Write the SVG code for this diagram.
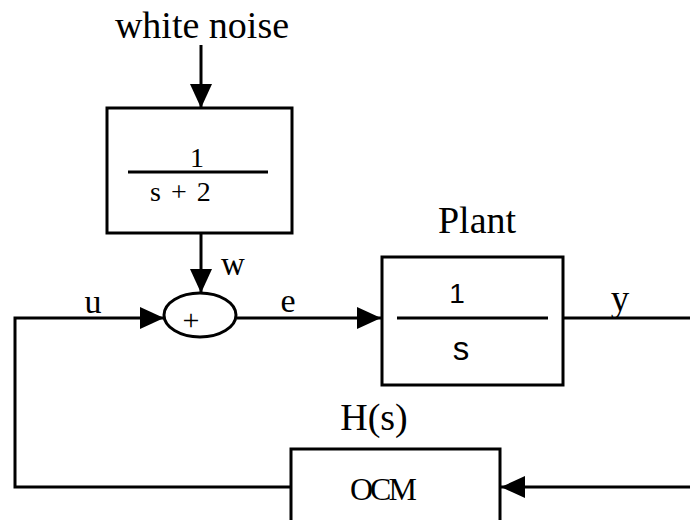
<svg xmlns="http://www.w3.org/2000/svg" width="690" height="520" viewBox="0 0 690 520">
<defs>
<marker id="ah" viewBox="0 0 24 22" refX="24" refY="11" markerWidth="24" markerHeight="22" markerUnits="userSpaceOnUse" orient="auto">
<path d="M0,0 L24,11 L0,22 Z" fill="#000"/>
</marker>
</defs>
<style>
.ln{stroke:#000;stroke-width:3;fill:none}
.box{stroke:#000;stroke-width:3;fill:#fff}
.serif{font-family:"Liberation Serif","Times New Roman",serif;fill:#000}
.sans{font-family:"Liberation Sans",Arial,sans-serif;fill:#000}
</style>
<rect width="690" height="520" fill="#fff"/>
<g id="connectors">
<line class="ln" x1="201" y1="45" x2="201" y2="108" marker-end="url(#ah)"/>
<line class="ln" x1="201" y1="233" x2="201" y2="293" marker-end="url(#ah)"/>
<polyline class="ln" points="291,487 15,487 15,318 164,318" marker-end="url(#ah)"/>
<line class="ln" x1="237" y1="318" x2="381" y2="318" marker-end="url(#ah)"/>
<polyline class="ln" points="563,318 692,318"/>
<line class="ln" x1="692" y1="487" x2="501" y2="487" marker-end="url(#ah)"/>
<text class="serif" x="233" y="275" font-size="33" text-anchor="middle">w</text>
<text class="serif" x="93" y="313" font-size="34" text-anchor="middle">u</text>
<text class="serif" x="288" y="312" font-size="34" text-anchor="middle">e</text>
<text class="serif" x="620" y="311" font-size="37" text-anchor="middle">y</text>
</g>
<g id="noise">
<text class="serif" x="202" y="38" font-size="38" text-anchor="middle">white noise</text>
</g>
<g id="filter">
<rect class="box" x="107" y="108" width="185" height="125"/>
<line class="ln" x1="128" y1="172" x2="268" y2="172"/>
<text class="serif" x="197" y="167" font-size="28" text-anchor="middle">1</text>
<text class="serif" x="150" y="201" font-size="28" letter-spacing="1.5">s + 2</text>
</g>
<g id="sum">
<ellipse class="box" cx="200" cy="315" rx="36" ry="22"/>
<text class="serif" x="191" y="330" font-size="30" text-anchor="middle">+</text>
</g>
<g id="plant">
<text class="serif" x="477" y="233" font-size="38" text-anchor="middle">Plant</text>
<rect class="box" x="382" y="257" width="181" height="128"/>
<line class="ln" x1="397" y1="318" x2="548" y2="318"/>
<text class="sans" x="457" y="303" font-size="28" text-anchor="middle">1</text>
<text class="sans" x="461" y="360" font-size="33" text-anchor="middle">s</text>
</g>
<g id="ocm">
<text class="serif" x="374" y="430" font-size="38" text-anchor="middle">H(s)</text>
<rect class="box" x="291" y="449" width="209" height="80"/>
<text class="serif" x="350" y="500" font-size="32" letter-spacing="-3">OCM</text>
</g>
</svg>
